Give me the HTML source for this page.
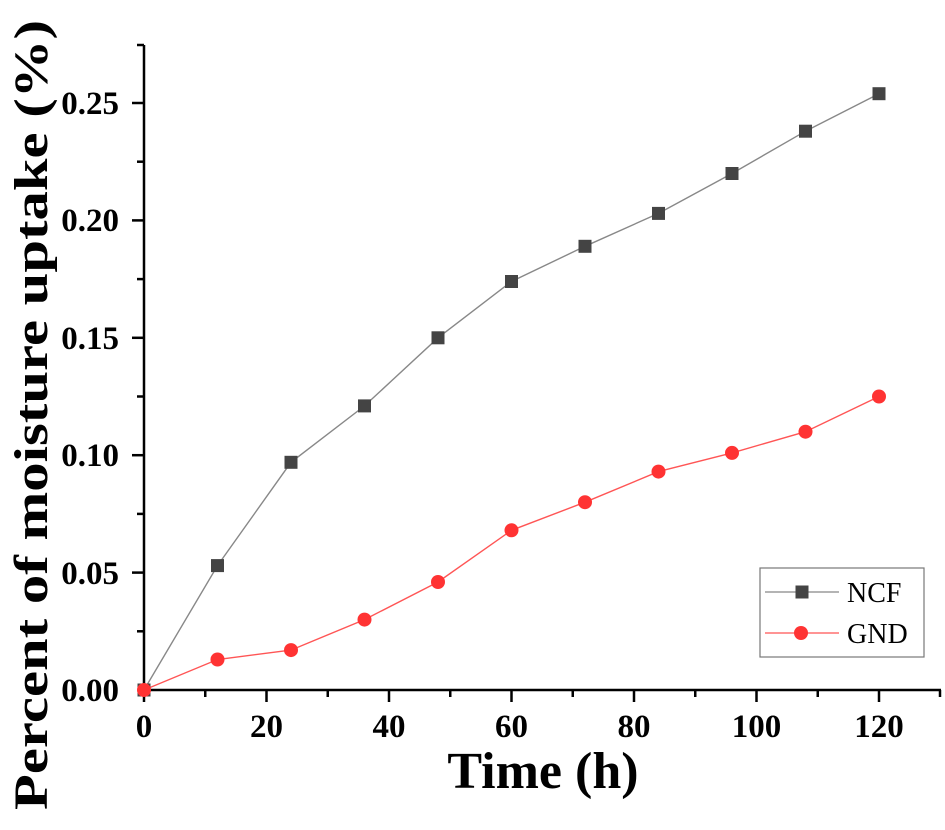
<!DOCTYPE html>
<html><head><style>body{margin:0;background:#fff}</style></head><body>
<svg width="945" height="825" xmlns="http://www.w3.org/2000/svg" font-family="Liberation Serif, serif" font-weight="bold">
<g stroke="#000" stroke-width="2.5" fill="none">
<line x1="144" y1="45" x2="144" y2="691"/>
<line x1="137" y1="45" x2="144" y2="45"/>
<line x1="143" y1="690" x2="941" y2="690"/>
</g>
<g stroke="#000" stroke-width="2.5">
<line x1="144" y1="690" x2="144" y2="702"/><line x1="266.5" y1="690" x2="266.5" y2="702"/><line x1="389" y1="690" x2="389" y2="702"/><line x1="511.5" y1="690" x2="511.5" y2="702"/><line x1="634" y1="690" x2="634" y2="702"/><line x1="756.5" y1="690" x2="756.5" y2="702"/><line x1="879" y1="690" x2="879" y2="702"/>
<line x1="205.25" y1="690" x2="205.25" y2="697"/><line x1="327.75" y1="690" x2="327.75" y2="697"/><line x1="450.25" y1="690" x2="450.25" y2="697"/><line x1="572.75" y1="690" x2="572.75" y2="697"/><line x1="695.25" y1="690" x2="695.25" y2="697"/><line x1="817.75" y1="690" x2="817.75" y2="697"/><line x1="940" y1="690" x2="940" y2="697"/>
<line x1="132" y1="572.6" x2="144" y2="572.6"/><line x1="132" y1="455.2" x2="144" y2="455.2"/><line x1="132" y1="337.8" x2="144" y2="337.8"/><line x1="132" y1="220.4" x2="144" y2="220.4"/><line x1="132" y1="103" x2="144" y2="103"/>
<line x1="137" y1="631.3" x2="144" y2="631.3"/><line x1="137" y1="513.9" x2="144" y2="513.9"/><line x1="137" y1="396.5" x2="144" y2="396.5"/><line x1="137" y1="279.1" x2="144" y2="279.1"/><line x1="137" y1="161.7" x2="144" y2="161.7"/>
</g>
<g font-size="33" text-anchor="middle">
<text x="144" y="737">0</text><text x="266.5" y="737">20</text><text x="389" y="737">40</text><text x="511.5" y="737">60</text><text x="634" y="737">80</text><text x="756.5" y="737">100</text><text x="879" y="737">120</text>
</g>
<g font-size="33" text-anchor="end">
<text x="119" y="701">0.00</text><text x="119" y="584">0.05</text><text x="119" y="466">0.10</text><text x="119" y="349">0.15</text><text x="119" y="231">0.20</text><text x="119" y="114">0.25</text>
</g>
<text x="543" y="788" font-size="52" text-anchor="middle">Time (h)</text>
<text transform="translate(47,415) rotate(-90)" font-size="48" text-anchor="middle" textLength="790" lengthAdjust="spacingAndGlyphs">Percent of moisture uptake (%)</text>
<polyline fill="none" stroke="#888" stroke-width="1.4" points="144,690 217.5,565.6 291,462.3 364.5,405.9 438,337.8 511.5,281.5 585,246.3 658.5,213.4 732,173.5 805.5,131.2 879,93.7"/>
<polyline fill="none" stroke="#f55" stroke-width="1.4" points="144,690 217.5,659.5 291,650.1 364.5,619.6 438,582 511.5,530.3 585,502.2 658.5,471.6 732,452.9 805.5,431.7 879,396.5"/>
<g fill="#444">
<rect x="137.5" y="683.5" width="13" height="13"/><rect x="211" y="559.1" width="13" height="13"/><rect x="284.5" y="455.8" width="13" height="13"/><rect x="358" y="399.4" width="13" height="13"/><rect x="431.5" y="331.3" width="13" height="13"/><rect x="505" y="275" width="13" height="13"/><rect x="578.5" y="239.8" width="13" height="13"/><rect x="652" y="206.9" width="13" height="13"/><rect x="725.5" y="167" width="13" height="13"/><rect x="799" y="124.7" width="13" height="13"/><rect x="872.5" y="87.2" width="13" height="13"/>
</g>
<g fill="#f33">
<circle cx="144" cy="690" r="7"/><circle cx="217.5" cy="659.5" r="7"/><circle cx="291" cy="650.1" r="7"/><circle cx="364.5" cy="619.6" r="7"/><circle cx="438" cy="582" r="7"/><circle cx="511.5" cy="530.3" r="7"/><circle cx="585" cy="502.2" r="7"/><circle cx="658.5" cy="471.6" r="7"/><circle cx="732" cy="452.9" r="7"/><circle cx="805.5" cy="431.7" r="7"/><circle cx="879" cy="396.5" r="7"/>
</g>
<rect x="760" y="568" width="164" height="89" fill="none" stroke="#777" stroke-width="1.2"/>
<line x1="765" y1="592" x2="839" y2="592" stroke="#888" stroke-width="1.2"/>
<rect x="795.5" y="585.5" width="13" height="13" fill="#444"/>
<line x1="765" y1="633" x2="839" y2="633" stroke="#f55" stroke-width="1.2"/>
<circle cx="801" cy="633" r="7" fill="#f33"/>
<g font-size="28" font-weight="normal"><text x="847" y="602">NCF</text><text x="847" y="643">GND</text></g>
</svg>
</body></html>
